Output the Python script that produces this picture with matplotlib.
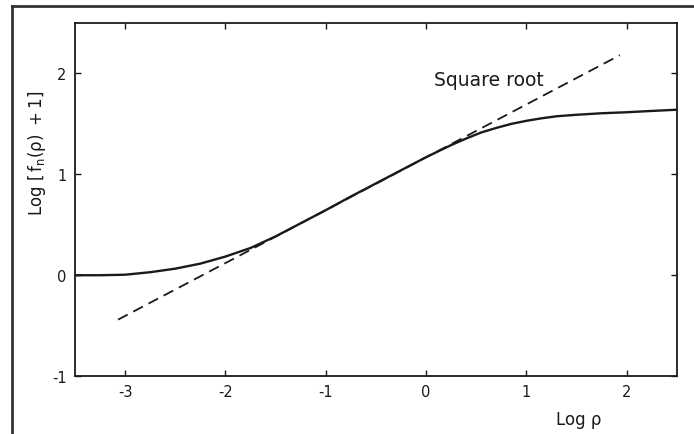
import matplotlib
matplotlib.use("Agg")
import matplotlib.pyplot as plt
from matplotlib.lines import Line2D

# Solid curve: Log[f_n(rho)+1] vs Log rho
log_rho = [-3.5, -3.25, -3.0, -2.75, -2.5, -2.25, -2.0, -1.75, -1.5, -1.25,
           -1.0, -0.75, -0.5, -0.25, 0.0, 0.25, 0.4, 0.55, 0.7, 0.85,
           1.0, 1.15, 1.3, 1.5, 1.75, 2.0, 2.25, 2.5]
log_f = [0.0, 0.0, 0.005, 0.03, 0.065, 0.115, 0.185, 0.27, 0.385, 0.515,
         0.645, 0.78, 0.91, 1.04, 1.17, 1.29, 1.355, 1.415, 1.46, 1.50,
         1.53, 1.555, 1.575, 1.59, 1.605, 1.615, 1.628, 1.64]

# Dashed "square root" asymptote endpoints
sqrt_x = [-3.07, 1.93]
sqrt_y = [-0.44, 2.18]

xticks = [-3, -2, -1, 0, 1, 2]
yticks = [-1, 0, 1, 2]

plt.rcParams['font.family'] = ['DejaVu Sans']
plt.rcParams['mathtext.fontset'] = 'dejavusans'

ink = '#1a1a1a'
fig = plt.figure(figsize=(6.94, 4.35), dpi=100)
ax = fig.add_axes([0.108, 0.133, 0.8675, 0.812])

ax.plot(log_rho, log_f, color=ink, lw=1.7, solid_capstyle='round',
        solid_joinstyle='round')
ax.plot(sqrt_x, sqrt_y, color=ink, lw=1.3, dashes=(6, 3.5))

ax.set_xlim(-3.5, 2.5)
ax.set_ylim(-1, 2.5)
ax.set_xticks(xticks)
ax.set_yticks(yticks)
ax.set_xticklabels([str(t) for t in xticks])
ax.set_yticklabels([str(t) for t in yticks])
ax.tick_params(direction='in', length=4, width=1, top=True, right=True,
               labelsize=10.5, colors=ink, pad=6)
for s in ax.spines.values():
    s.set_linewidth(1.3)
    s.set_color(ink)

ax.text(0.08, 1.94, 'Square root', fontsize=13.5, color=ink,
        va='center', ha='left')

ax.set_ylabel(r'Log $\left[\,\mathrm{f_n(\rho)\ +1}\right]$', fontsize=12, color=ink)
ax.yaxis.set_label_coords(-0.045, 0.635)
ax.set_xlabel('Log ρ', fontsize=12, color=ink)
ax.xaxis.set_label_coords(0.837, -0.095)

# Outer frame (top and left edges of the scanned figure)
fig.add_artist(Line2D([0.017, 1.0], [0.984, 0.984], transform=fig.transFigure,
                      color='#333333', lw=2))
fig.add_artist(Line2D([0.017, 0.017], [0.0, 0.984], transform=fig.transFigure,
                      color='#333333', lw=2))

fig.savefig('out.png', dpi=100)
